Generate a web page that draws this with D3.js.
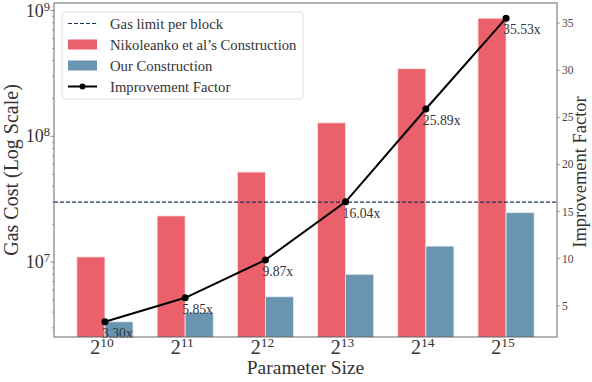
<!DOCTYPE html>
<html>
<head>
<meta charset="utf-8">
<script src="https://cdn.jsdelivr.net/npm/d3@7"></script>
<style>
  body { margin: 0; background: #fff; }
  svg { display: block; font-family: "Liberation Serif", serif; }
</style>
</head>
<body>
<div id="chart"></div>
<script>
// Data
var exponents = [10, 11, 12, 13, 14, 15];
var nikoleankoCost = [1.10e7, 2.33e7, 5.2e7, 1.28e8, 3.45e8, 8.7e8];
var ourCost = [3.35e6, 3.99e6, 5.3e6, 8.0e6, 1.34e7, 2.47e7];
var improvement = [3.30, 5.85, 9.87, 16.04, 25.89, 35.53];
var gasLimit = 3.0e7;
var leftTicks = [7, 8, 9];
var rightTicks = [5, 10, 15, 20, 25, 30, 35];

var W = 592, H = 382;
var margin = {top: 3, right: 35, bottom: 45, left: 54};
var width = W - margin.left - margin.right,
    height = H - margin.top - margin.bottom;
var barW = 0.35;

var svg = d3.select("#chart").append("svg")
    .attr("width", W).attr("height", H);
var g = svg.append("g")
    .attr("transform", "translate(" + margin.left + "," + margin.top + ")");

// x: category index with matplotlib-like 5% padding
var n = exponents.length;
var xlo = -barW, xhi = (n - 1) + barW, xpad = (xhi - xlo) * 0.05;
var x = d3.scaleLinear().domain([xlo - xpad, xhi + xpad]).range([0, width]);

// left: log scale, padded 5% in log space
var allCost = nikoleankoCost.concat(ourCost);
var lmin = Math.log10(d3.min(allCost)), lmax = Math.log10(d3.max(allCost));
var lpad = (lmax - lmin) * 0.05;
var y = d3.scaleLog().domain([Math.pow(10, lmin - lpad), Math.pow(10, lmax + lpad)]).range([height, 0]);

// right: linear
var rmin = d3.min(improvement), rmax = d3.max(improvement), rpad = (rmax - rmin) * 0.05;
var y2 = d3.scaleLinear().domain([rmin - rpad, rmax + rpad]).range([height, 0]);

g.append("clipPath").attr("id", "clip")
    .append("rect").attr("width", width).attr("height", height);
var plot = g.append("g").attr("clip-path", "url(#clip)");

// bars
plot.selectAll(".bar-n").data(nikoleankoCost).enter().append("rect")
    .attr("x", function(d, i) { return x(i - barW); })
    .attr("width", function(d, i) { return x(i) - x(i - barW); })
    .attr("y", function(d) { return y(d); })
    .attr("height", function(d) { return height - y(d) + 2; })
    .attr("fill", "#eb616b")
    .attr("stroke", "#fde8ea").attr("stroke-width", 0.8);

plot.selectAll(".bar-o").data(ourCost).enter().append("rect")
    .attr("x", function(d, i) { return x(i); })
    .attr("width", function(d, i) { return x(i + barW) - x(i); })
    .attr("y", function(d) { return y(d); })
    .attr("height", function(d) { return height - y(d) + 2; })
    .attr("fill", "#6a95b1")
    .attr("stroke", "#e3edf3").attr("stroke-width", 0.8);

// gas limit
plot.append("line")
    .attr("x1", 0).attr("x2", width)
    .attr("y1", y(gasLimit)).attr("y2", y(gasLimit))
    .attr("stroke", "#1d3557").attr("stroke-width", 1.1)
    .attr("stroke-dasharray", "4,2");

// improvement line
var line = d3.line()
    .x(function(d, i) { return x(i); })
    .y(function(d) { return y2(d); });
g.append("path").datum(improvement)
    .attr("d", line)
    .attr("fill", "none").attr("stroke", "#000").attr("stroke-width", 2);
g.selectAll(".dot").data(improvement).enter().append("circle")
    .attr("cx", function(d, i) { return x(i); })
    .attr("cy", function(d) { return y2(d); })
    .attr("r", 3.5).attr("fill", "#000");
g.selectAll(".lab").data(improvement).enter().append("text")
    .attr("x", function(d, i) { return x(i) - 3; })
    .attr("y", function(d) { return y2(d) + 16; })
    .attr("font-size", "13.7px").attr("fill", "#333")
    .text(function(d) { return d.toFixed(2) + "x"; });

// spines
g.append("rect").attr("width", width).attr("height", height)
    .attr("fill", "none").attr("stroke", "#666").attr("stroke-width", 1);

// left ticks
var minor = [];
for (var k = 6; k <= 9; k++) {
  for (var m = 2; m <= 9; m++) {
    var v = m * Math.pow(10, k);
    if (v >= y.domain()[0] && v <= y.domain()[1]) minor.push(v);
  }
}
g.selectAll(".minor").data(minor).enter().append("line")
    .attr("x1", -2).attr("x2", 0)
    .attr("y1", function(d) { return y(d); }).attr("y2", function(d) { return y(d); })
    .attr("stroke", "#666").attr("stroke-width", 0.6);
g.selectAll(".major").data(leftTicks).enter().append("line")
    .attr("x1", -3.5).attr("x2", 0)
    .attr("y1", function(d) { return y(Math.pow(10, d)); }).attr("y2", function(d) { return y(Math.pow(10, d)); })
    .attr("stroke", "#666").attr("stroke-width", 0.8);
var lt = g.selectAll(".ltick").data(leftTicks).enter().append("text")
    .attr("x", -4).attr("y", function(d) { return y(Math.pow(10, d)) + 6; })
    .attr("text-anchor", "end").attr("fill", "#333").attr("font-size", "18px");
lt.append("tspan").text("10");
lt.append("tspan").attr("dy", "-6").attr("font-size", "12.5px").text(function(d) { return d; });

// right ticks
g.selectAll(".rt").data(rightTicks).enter().append("line")
    .attr("x1", width).attr("x2", width + 3)
    .attr("y1", function(d) { return y2(d); }).attr("y2", function(d) { return y2(d); })
    .attr("stroke", "#666").attr("stroke-width", 0.6);
g.selectAll(".rtl").data(rightTicks).enter().append("text")
    .attr("x", width + 5).attr("y", function(d) { return y2(d) + 4; })
    .attr("fill", "#444").attr("font-size", "11.5px")
    .text(function(d) { return d; });

// x ticks
var xt = g.selectAll(".xt").data(exponents).enter().append("text")
    .attr("x", function(d, i) { return x(i) - 3; })
    .attr("y", height + 17)
    .attr("text-anchor", "middle").attr("fill", "#333").attr("font-size", "20px");
xt.append("tspan").text("2");
xt.append("tspan").attr("dy", "-7").attr("font-size", "13.5px").text(function(d) { return d; });

// axis titles
g.append("text")
    .attr("x", width / 2).attr("y", height + 37)
    .attr("text-anchor", "middle").attr("fill", "#333").attr("font-size", "19.5px")
    .text("Parameter Size");
g.append("text")
    .attr("transform", "translate(" + (-36) + "," + (height / 2) + ") rotate(-90)")
    .attr("text-anchor", "middle").attr("fill", "#333").attr("font-size", "20px")
    .text("Gas Cost (Log Scale)");
g.append("text")
    .attr("transform", "translate(" + (width + 29) + "," + (height / 2 + 2) + ") rotate(-90)")
    .attr("text-anchor", "middle").attr("fill", "#333").attr("font-size", "18.5px")
    .text("Improvement Factor");

// legend
var legendItems = [
  {name: "Gas limit per block", type: "dash"},
  {name: "Nikoleanko et al\u2019s Construction", type: "red"},
  {name: "Our Construction", type: "blue"},
  {name: "Improvement Factor", type: "line"}
];
var lg = g.append("g").attr("transform", "translate(8,9)");
lg.append("rect").attr("width", 241).attr("height", 87).attr("rx", 3)
    .attr("fill", "#fff").attr("fill-opacity", 0.8)
    .attr("stroke", "#ddd").attr("stroke-width", 1);
var li = lg.selectAll(".legend").data(legendItems).enter().append("g")
    .attr("transform", function(d, i) { return "translate(0," + (11.5 + i * 21) + ")"; });
li.each(function(d) {
  var s = d3.select(this);
  if (d.type == "dash") {
    s.append("line").attr("x1", 6).attr("x2", 35).attr("y1", 0).attr("y2", 0)
        .attr("stroke", "#1d3557").attr("stroke-width", 1.1).attr("stroke-dasharray", "4,2");
  } else if (d.type == "line") {
    s.append("line").attr("x1", 6).attr("x2", 35).attr("y1", 0).attr("y2", 0)
        .attr("stroke", "#000").attr("stroke-width", 2);
    s.append("circle").attr("cx", 20.5).attr("cy", 0).attr("r", 3).attr("fill", "#000");
  } else {
    s.append("rect").attr("x", 6).attr("y", -5).attr("width", 29).attr("height", 10)
        .attr("fill", d.type == "red" ? "#eb616b" : "#6a95b1");
  }
});
li.append("text").attr("x", 48).attr("y", 5)
    .attr("fill", "#333").attr("font-size", "14.7px")
    .text(function(d) { return d.name; });
</script>
</body>
</html>
